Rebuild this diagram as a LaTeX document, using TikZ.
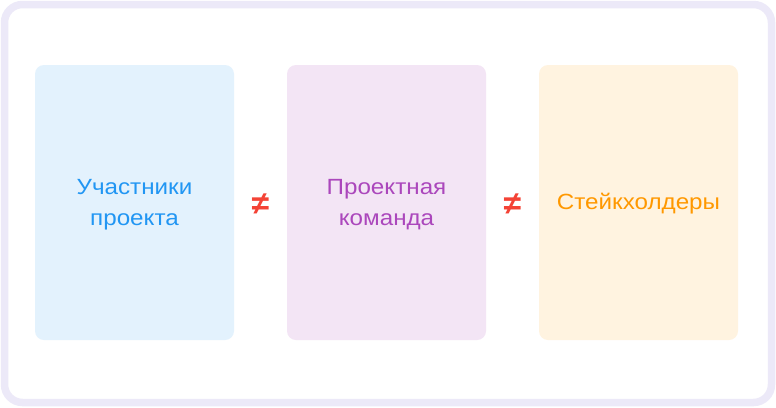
\documentclass[tikz,border=0pt]{standalone}
\usepackage{fontspec}
\setmainfont[FakeStretch=1.1]{Liberation Sans}
\newfontfamily\symfont{Liberation Sans}
\definecolor{frameC}{HTML}{ECE9F8}
\definecolor{blueF}{HTML}{E3F2FD}
\definecolor{blueT}{HTML}{2196F3}
\definecolor{purpF}{HTML}{F3E5F5}
\definecolor{purpT}{HTML}{AB47BC}
\definecolor{orF}{HTML}{FFF3E0}
\definecolor{orT}{HTML}{FF9800}
\definecolor{neqC}{HTML}{F44336}
\tikzset{
  card/.style={rounded corners=9pt, minimum width=199pt, minimum height=275pt, inner sep=0pt},
  cardtext/.style={inner sep=0pt, align=center, font=\fontsize{22}{31}\selectfont},
  neq/.style={font=\symfont\bfseries\fontsize{32}{32}\selectfont, text=neqC, inner sep=0pt}
}
\begin{document}
\begin{tikzpicture}[x=1pt,y=-1pt]
\useasboundingbox (0,0) rectangle (776,407);
\draw[frameC, line width=7.5pt, rounded corners=18pt, fill=white] (4.5,4.5) rectangle (771.5,402.5);
\node[card, fill=blueF] (a) at (134.5,202.5) {};
\node[card, fill=purpF] (b) at (386.5,202.5) {};
\node[card, fill=orF] (c) at (638.5,202.5) {};
\node[cardtext, text=blueT] (at) at ([yshift=-2.5pt]a.center) {Участники\\проекта};
\node[cardtext, text=purpT] (bt) at ([yshift=-2.5pt]b.center) {Проектная\\команда};
\node[cardtext, text=orT] (ct) at ([yshift=-1pt]c.center) {Стейкхолдеры};
\node[neq] (n1) at (260.5,204) {≠};
\node[neq] (n2) at (512.5,204) {≠};
\end{tikzpicture}
\end{document}
